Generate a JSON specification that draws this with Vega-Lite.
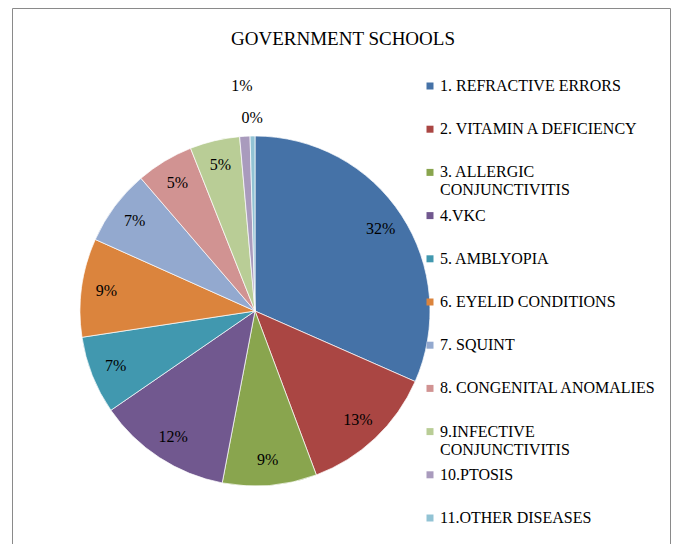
{
  "$schema": "https://vega.github.io/schema/vega-lite/v6.json",
  "width": 510,
  "height": 460,
  "padding": {"left": 0, "top": 81, "right": 168, "bottom": 3},
  "autosize": {"type": "none"},
  "background": "white",
  "config": {"view": {"stroke": null}},
  "title": {
    "text": "GOVERNMENT SCHOOLS",
    "font": "Liberation Serif",
    "fontSize": 19,
    "fontWeight": "normal",
    "color": "black",
    "anchor": "middle",
    "dx": 88,
    "offset": -41
  },
  "data": {
    "values": [
      {"n": 1, "category": "1.  REFRACTIVE ERRORS", "share": 0.316},
      {"n": 2, "category": "2. VITAMIN A DEFICIENCY", "share": 0.127},
      {"n": 3, "category": "3. ALLERGIC CONJUNCTIVITIS", "share": 0.087},
      {"n": 4, "category": "4.VKC", "share": 0.124},
      {"n": 5, "category": "5. AMBLYOPIA", "share": 0.072},
      {"n": 6, "category": "6. EYELID CONDITIONS", "share": 0.091},
      {"n": 7, "category": "7. SQUINT", "share": 0.070},
      {"n": 8, "category": "8. CONGENITAL ANOMALIES", "share": 0.053},
      {"n": 9, "category": "9.INFECTIVE CONJUNCTIVITIS", "share": 0.046},
      {"n": 10, "category": "10.PTOSIS", "share": 0.0095},
      {"n": 11, "category": "11.OTHER DISEASES", "share": 0.0045}
    ]
  },
  "encoding": {
    "theta": {"field": "share", "type": "quantitative", "stack": true},
    "order": {"field": "n", "type": "quantitative"}
  },
  "layer": [
    {
      "mark": {"type": "arc", "outerRadius": 175, "stroke": "white", "strokeWidth": 0.7},
      "encoding": {
        "color": {
          "field": "category",
          "type": "nominal",
          "scale": {
            "domain": ["1.  REFRACTIVE ERRORS", "2. VITAMIN A DEFICIENCY", "3. ALLERGIC CONJUNCTIVITIS", "4.VKC", "5. AMBLYOPIA", "6. EYELID CONDITIONS", "7. SQUINT", "8. CONGENITAL ANOMALIES", "9.INFECTIVE CONJUNCTIVITIS", "10.PTOSIS", "11.OTHER DISEASES"],
            "range": ["#4572A7", "#AA4643", "#89A54E", "#71588F", "#4198AF", "#DB843D", "#93A9CF", "#D19392", "#B9CD96", "#A99BBD", "#92C3D4"]
          },
          "legend": {
            "title": null,
            "orient": "none",
            "legendX": 422,
            "legendY": -3,
            "padding": 0,
            "symbolType": "square",
            "symbolSize": 49,
            "symbolStrokeWidth": 0,
            "symbolOpacity": 1,
            "labelFont": "Liberation Serif",
            "labelFontSize": 16,
            "labelColor": "black",
            "labelLimit": 300,
            "labelOffset": 2,
            "labelBaseline": "middle",
            "gridAlign": "all",
            "rowPadding": 9.2,
            "labelExpr": "indexof(datum.label, ' CONJUNCTIVITIS') > 0 ? [replace(datum.label, ' CONJUNCTIVITIS', ''), 'CONJUNCTIVITIS'] : datum.label"
          }
        }
      }
    },
    {
      "mark": {"type": "text", "radius": 150, "font": "Liberation Serif", "fontSize": 16},
      "encoding": {
        "color": {"value": "black"},
        "text": {"condition": {"test": "datum.n <= 9", "field": "share", "type": "quantitative", "format": ".0%"}, "value": ""}
      }
    },
    {
      "mark": {"type": "text", "radius": 225, "font": "Liberation Serif", "fontSize": 16},
      "encoding": {
        "color": {"value": "black"},
        "text": {"condition": {"test": "datum.n == 10", "field": "share", "type": "quantitative", "format": ".0%"}, "value": ""}
      }
    },
    {
      "mark": {"type": "text", "radius": 193, "font": "Liberation Serif", "fontSize": 16},
      "encoding": {
        "color": {"value": "black"},
        "text": {"condition": {"test": "datum.n == 11", "field": "share", "type": "quantitative", "format": ".0%"}, "value": ""},
        "opacity": {
          "datum": "frame",
          "type": "nominal",
          "scale": {"range": [1]},
          "legend": {
            "title": null,
            "orient": "none",
            "legendX": 12,
            "legendY": -73,
            "padding": 328.5,
            "strokeColor": "#8a8a8a",
            "symbolSize": 0.01,
            "symbolOpacity": 0,
            "symbolStrokeWidth": 0,
            "labelFontSize": 1,
            "labelOffset": 0,
            "labelExpr": "''"
          }
        }
      }
    }
  ]
}
